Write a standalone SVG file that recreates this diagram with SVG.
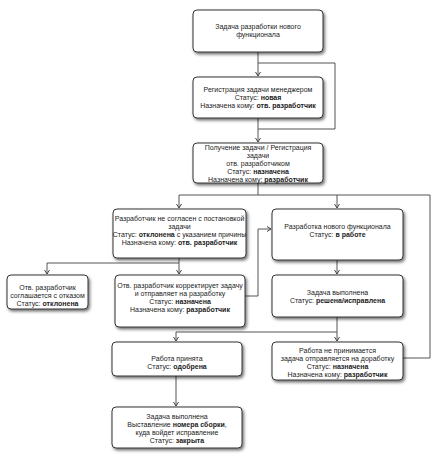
<svg xmlns="http://www.w3.org/2000/svg" width="441" height="460" viewBox="0 0 441 460">
<defs>
<filter id="sh" x="-10%" y="-20%" width="130%" height="150%">
<feDropShadow dx="1.5" dy="2" stdDeviation="1.5" flood-color="#000" flood-opacity="0.55"/>
</filter>
<marker id="ar" markerWidth="6" markerHeight="6" refX="5" refY="3" orient="auto" markerUnits="userSpaceOnUse">
<path d="M1,0.5 L5,3 L1,5.5" fill="none" stroke="#444" stroke-width="1"/>
</marker>
</defs>
<style>
.box{fill:#fff;stroke:#333;stroke-width:1;filter:url(#sh)}
.t{font-family:"Liberation Sans",Arial,sans-serif;font-size:7px;fill:#222;text-anchor:middle}
.b{font-weight:bold}
.c{fill:none;stroke:#555;stroke-width:1}
</style>
<rect width="441" height="460" fill="#fff"/>
<g id="connectors">
<path class="c" d="M258,52 V76" marker-end="url(#ar)"/>
<path class="c" d="M258,63 H335 V129 H258"/>
<path class="c" d="M258,118 V142" marker-end="url(#ar)"/>
<path class="c" d="M258,183 V195"/>
<path class="c" d="M179,195 H430"/>
<path class="c" d="M179,195 V208" marker-end="url(#ar)"/>
<path class="c" d="M337,195 V208" marker-end="url(#ar)"/>
<path class="c" d="M403,358 H430 V195"/>
<path class="c" d="M179,258 V263"/>
<path class="c" d="M47,263 H179"/>
<path class="c" d="M47,263 V274" marker-end="url(#ar)"/>
<path class="c" d="M179,263 V274" marker-end="url(#ar)"/>
<path class="c" d="M245,296 H258 V229 H271" marker-end="url(#ar)"/>
<path class="c" d="M337,260 V274" marker-end="url(#ar)"/>
<path class="c" d="M337,317 V332"/>
<path class="c" d="M176,332 H337"/>
<path class="c" d="M176,332 V341" marker-end="url(#ar)"/>
<path class="c" d="M337,332 V341" marker-end="url(#ar)"/>
<path class="c" d="M176,376 V406" marker-end="url(#ar)"/>
</g>
<g id="n1">
<rect class="box" x="193" y="10" width="130" height="42" rx="4"/>
<text class="t" x="258" y="29">Задача разработки нового</text>
<text class="t" x="258" y="37">функционала</text>
</g>
<g id="n2">
<rect class="box" x="193" y="77" width="130" height="41" rx="4"/>
<text class="t" x="258" y="92">Регистрация задачи менеджером</text>
<text class="t" x="258" y="100">Статус: <tspan class="b">новая</tspan></text>
<text class="t" x="258" y="108">Назначена кому: <tspan class="b">отв. разработчик</tspan></text>
</g>
<g id="n3">
<rect class="box" x="193" y="143" width="130" height="40" rx="4"/>
<text class="t" x="258" y="150">Получение задачи / Регистрация</text>
<text class="t" x="258" y="158">задачи</text>
<text class="t" x="258" y="166">отв. разработчиком</text>
<text class="t" x="258" y="174">Статус: <tspan class="b">назначена</tspan></text>
<text class="t" x="258" y="182">Назначена кому: <tspan class="b">разработчик</tspan></text>
</g>
<g id="n4">
<rect class="box" x="113" y="209" width="133" height="49" rx="4"/>
<text class="t" x="179.5" y="221">Разработчик не согласен с постановкой</text>
<text class="t" x="179.5" y="229">задачи</text>
<text class="t" x="179.5" y="237">Статус: <tspan class="b">отклонена</tspan> с указанием причины</text>
<text class="t" x="179.5" y="245">Назначена кому: <tspan class="b">отв. разработчик</tspan></text>
</g>
<g id="n5">
<rect class="box" x="272" y="209" width="131" height="51" rx="4"/>
<text class="t" x="337.5" y="229">Разработка нового функционала</text>
<text class="t" x="337.5" y="237">Статус: <tspan class="b">в работе</tspan></text>
</g>
<g id="n7">
<rect class="box" x="7" y="275" width="81" height="34" rx="4"/>
<text class="t" x="47.5" y="290">Отв. разработчик</text>
<text class="t" x="47.5" y="298">соглашается с отказом</text>
<text class="t" x="47.5" y="306">Статус: <tspan class="b">отклонена</tspan></text>
</g>
<g id="n6">
<rect class="box" x="115" y="275" width="130" height="52" rx="4"/>
<text class="t" x="180" y="288">Отв. разработчик корректирует задачу</text>
<text class="t" x="180" y="296">и отправляет на разработку</text>
<text class="t" x="180" y="304">Статус: <tspan class="b">назначена</tspan></text>
<text class="t" x="180" y="312">Назначена кому: <tspan class="b">разработчик</tspan></text>
</g>
<g id="n8">
<rect class="box" x="272" y="275" width="131" height="42" rx="4"/>
<text class="t" x="337.5" y="295">Задача выполнена</text>
<text class="t" x="337.5" y="303">Статус: <tspan class="b">решена/исправлена</tspan></text>
</g>
<g id="n9">
<rect class="box" x="272" y="342" width="131" height="38" rx="4"/>
<text class="t" x="337.5" y="353">Работа не принимается</text>
<text class="t" x="337.5" y="361">задача отправляется на доработку</text>
<text class="t" x="337.5" y="369">Статус: <tspan class="b">назначена</tspan></text>
<text class="t" x="337.5" y="377">Назначена кому: <tspan class="b">разработчик</tspan></text>
</g>
<g id="n10">
<rect class="box" x="112" y="342" width="130" height="34" rx="4"/>
<text class="t" x="177" y="361">Работа принята</text>
<text class="t" x="177" y="369">Статус: <tspan class="b">одобрена</tspan></text>
</g>
<g id="n11">
<rect class="box" x="112" y="407" width="130" height="41" rx="4"/>
<text class="t" x="177" y="419">Задача выполнена</text>
<text class="t" x="177" y="427">Выставление <tspan class="b">номера сборки</tspan>,</text>
<text class="t" x="177" y="435">куда войдет исправление</text>
<text class="t" x="177" y="443">Статус: <tspan class="b">закрыта</tspan></text>
</g>
</svg>
